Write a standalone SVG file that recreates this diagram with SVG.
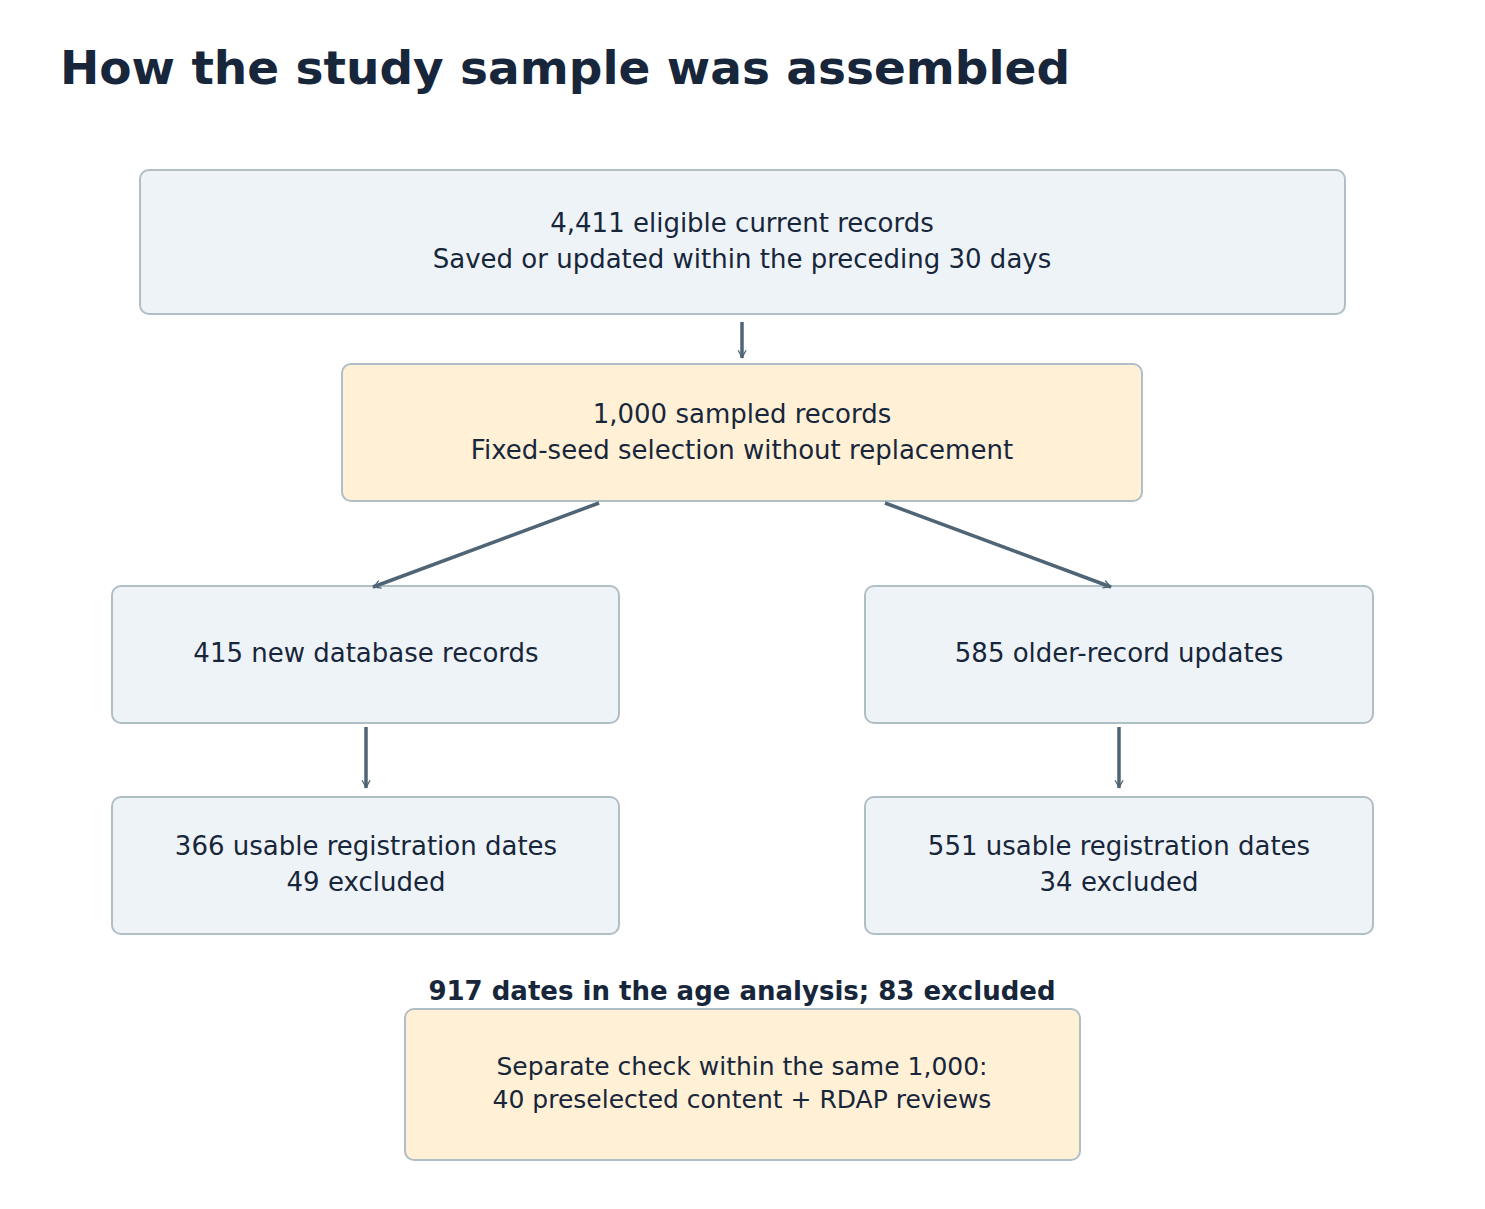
<svg xmlns="http://www.w3.org/2000/svg" width="1485" height="1209" viewBox="0 0 1485 1209">
<style>
.b{fill:#eef3f8;stroke:#b0bec5;stroke-width:2}
.o{fill:#fff0d6;stroke:#b0bec5;stroke-width:2}
text{font-family:"DejaVu Sans",sans-serif;fill:#17263a;text-anchor:middle}
.t{font-size:26px}
.s{font-size:25px}
.c line{stroke:#4f6575;stroke-width:3.5;marker-end:url(#a)}
</style>
<defs><marker id="a" viewBox="0 0 10 10" refX="9" refY="5" markerWidth="5" markerHeight="5" orient="auto" markerUnits="userSpaceOnUse" overflow="visible"><path d="M0,0 L9,5 L0,10" fill="none" stroke="#4f6575" stroke-width="1.6" transform="scale(1.6) translate(-4,-2)"/></marker></defs>
<rect width="1485" height="1209" fill="#fff"/>
<text x="60" y="84" style="font-size:47px;font-weight:bold;text-anchor:start">How the study sample was assembled</text>
<g id="n1"><rect class="b" x="140" y="170" width="1205" height="144" rx="9"/><text class="t" x="742" y="232">4,411 eligible current records</text><text class="t" x="742" y="268">Saved or updated within the preceding 30 days</text></g>
<g id="n2"><rect class="o" x="342" y="364" width="800" height="137" rx="9"/><text class="t" x="742" y="423">1,000 sampled records</text><text class="t" x="742" y="459">Fixed-seed selection without replacement</text></g>
<g id="n3"><rect class="b" x="112" y="586" width="507" height="137" rx="9"/><text class="t" x="366" y="662">415 new database records</text></g>
<g id="n4"><rect class="b" x="865" y="586" width="508" height="137" rx="9"/><text class="t" x="1119" y="662">585 older-record updates</text></g>
<g id="n5"><rect class="b" x="112" y="797" width="507" height="137" rx="9"/><text class="t" x="366" y="855">366 usable registration dates</text><text class="t" x="366" y="891">49 excluded</text></g>
<g id="n6"><rect class="b" x="865" y="797" width="508" height="137" rx="9"/><text class="t" x="1119" y="855">551 usable registration dates</text><text class="t" x="1119" y="891">34 excluded</text></g>
<g id="lbl"><text x="742" y="1000" style="font-size:26px;font-weight:bold">917 dates in the age analysis; 83 excluded</text></g>
<g id="n7"><rect class="o" x="405" y="1009" width="675" height="151" rx="9"/><text class="s" x="742" y="1075">Separate check within the same 1,000:</text><text class="s" x="742" y="1108">40 preselected content + RDAP reviews</text></g>
<g class="c" id="connectors">
<line x1="742" y1="322" x2="742" y2="358"/>
<line x1="599" y1="503" x2="373" y2="587"/>
<line x1="885" y1="503" x2="1111" y2="587"/>
<line x1="366" y1="727" x2="366" y2="788"/>
<line x1="1119" y1="727" x2="1119" y2="788"/>
</g>
</svg>
